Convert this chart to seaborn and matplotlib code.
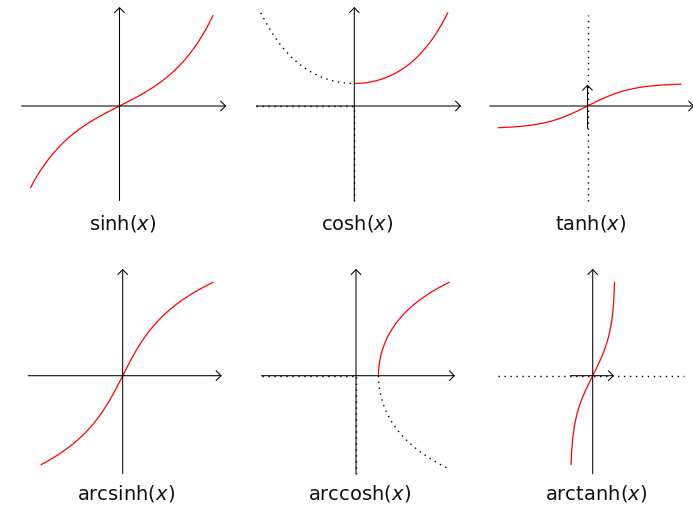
import numpy as np
import matplotlib
matplotlib.use("Agg")
import matplotlib.pyplot as plt
from matplotlib.patches import ArrowStyle
import seaborn as sns

sns.set_theme(style="white")
plt.rcParams["font.family"] = ["DejaVu Sans"]
plt.rcParams["mathtext.fontset"] = "dejavusans"

W, H = 693, 513

# Function names shown under each panel
names_top = ["sinh", "cosh", "tanh"]
names_bottom = ["arcsinh", "arccosh", "arctanh"]

# Parameter range used for every curve (inverse functions reuse it on their y side)
t_start, t_end = -2.0, 2.1
cosh_mirror_start = -2.1

# Axis extents (short, long) in data units
short_axis = [-2.2, 2.4]
long_axis = [-4.2, 4.4]
unit_axis = [-1.0, 0.95]
guide_span = [-4.2, 4.05]

# Panel origins in pixels and scales (px per unit)
origins_top = [(119.5, 106.0), (354.3, 106.0), (587.5, 106.0)]
origins_bottom = [(122.7, 375.7), (356.0, 375.7), (592.7, 375.7)]
s_short, s_long = 44.5, 22.5

RED = "#ff0000"
LW = 0.75
DOT_LW = 1.0
DOT = (0, (1, 3.3))
HEAD = ArrowStyle("->", head_length=0.35, head_width=0.35)

fig = plt.figure(figsize=(W / 100, H / 100), dpi=100)


def panel(ox, oy, sx, sy, xlim, ylim):
    left = ox + sx * xlim[0]
    right = ox + sx * xlim[1]
    top = oy - sy * ylim[1]
    bottom = oy - sy * ylim[0]
    ax = fig.add_axes([left / W, 1 - bottom / H, (right - left) / W, (bottom - top) / H])
    ax.set_xlim(xlim)
    ax.set_ylim(ylim)
    ax.axis("off")
    return ax


def arrow(ax, start, end):
    ax.annotate("", xy=end, xytext=start, annotation_clip=False,
                arrowprops=dict(arrowstyle=HEAD, color="black", lw=LW,
                                shrinkA=0, shrinkB=0, mutation_scale=10))


def dotted(ax, x, y):
    ax.plot(x, y, color="black", lw=DOT_LW, linestyle=DOT, clip_on=False,
            solid_capstyle="butt", dash_capstyle="butt")


def curve(ax, x, y):
    sns.lineplot(x=x, y=y, ax=ax, color=RED, lw=0.9, sort=False,
                 estimator=None, legend=False)
    ax.lines[-1].set_clip_on(False)


def label(ox, y_px, name):
    fig.text((ox + 3) / W, 1 - y_px / H, name + r"$(x)$", ha="center",
             va="center", fontsize=14, color="#111111")


t = np.linspace(t_start, t_end, 300)
t_pos = np.linspace(0, t_end, 200)
t_neg = np.linspace(cosh_mirror_start, 0, 200)

# ---- top row: sinh, cosh, tanh ----
xl = (short_axis[0] - 0.2, short_axis[1] + 0.3)
yl = (long_axis[0] - 0.2, long_axis[1] + 0.3)
axes_top = [panel(ox, oy, s_short, s_long, xl, yl) for ox, oy in origins_top]

ax = axes_top[0]
arrow(ax, (short_axis[0], 0), (short_axis[1], 0))
arrow(ax, (0, long_axis[0]), (0, long_axis[1]))
curve(ax, t, np.sinh(t))

ax = axes_top[1]
arrow(ax, (short_axis[0], 0), (short_axis[1], 0))
arrow(ax, (0, long_axis[0]), (0, long_axis[1]))
dotted(ax, [short_axis[0], 0], [0, 0])
dotted(ax, [0, 0], [long_axis[0], 0])
dotted(ax, t_neg, np.cosh(t_neg))
curve(ax, t_pos, np.cosh(t_pos))

ax = axes_top[2]
arrow(ax, (short_axis[0], 0), (short_axis[1], 0))
dotted(ax, [0, 0], guide_span)
arrow(ax, (0, unit_axis[0]), (0, unit_axis[1]))
curve(ax, t, np.tanh(t))

for (ox, oy), name in zip(origins_top, names_top):
    label(ox, 224, name)

# ---- bottom row: arcsinh, arccosh, arctanh ----
xl = (long_axis[0] - 0.2, long_axis[1] + 0.3)
yl = (short_axis[0] - 0.2, short_axis[1] + 0.3)
axes_bottom = [panel(ox, oy, s_long, s_short, xl, yl) for ox, oy in origins_bottom]

ax = axes_bottom[0]
arrow(ax, (long_axis[0], 0), (long_axis[1], 0))
arrow(ax, (0, short_axis[0]), (0, short_axis[1]))
curve(ax, np.sinh(t), t)

ax = axes_bottom[1]
arrow(ax, (long_axis[0], 0), (long_axis[1], 0))
arrow(ax, (0, short_axis[0]), (0, short_axis[1]))
dotted(ax, [long_axis[0], 0], [0, 0])
dotted(ax, [0, 0], [short_axis[0], 0])
x_ac = np.cosh(t_pos)
dotted(ax, x_ac, -np.arccosh(x_ac))
curve(ax, x_ac, np.arccosh(x_ac))

ax = axes_bottom[2]
dotted(ax, guide_span, [0, 0])
arrow(ax, (unit_axis[0], 0), (unit_axis[1], 0))
arrow(ax, (0, short_axis[0]), (0, short_axis[1]))
x_at = np.tanh(t)
curve(ax, x_at, np.arctanh(x_at))

for (ox, oy), name in zip(origins_bottom, names_bottom):
    label(ox, 494, name)

fig.savefig("out.png", dpi=100, facecolor="white")
